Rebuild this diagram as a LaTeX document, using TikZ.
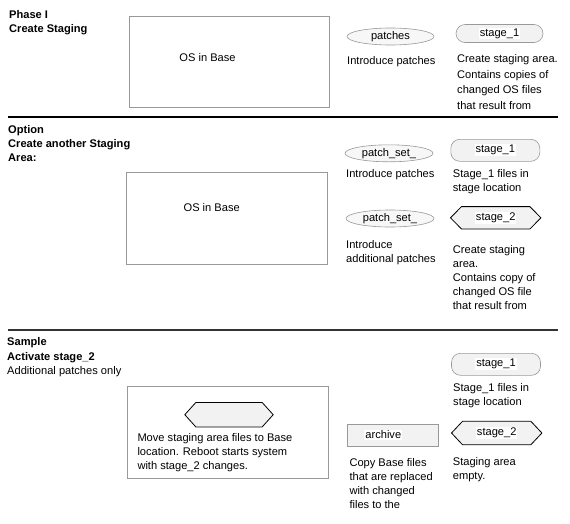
\documentclass[tikz,border=0pt]{standalone}
\usepackage{fontspec}
\setmainfont{Liberation Sans}
\usetikzlibrary{shapes.geometric}
\newcommand\dgfont{\fontsize{11.1pt}{14pt}\selectfont}
\tikzset{
  dtext/.style={anchor=north west, inner sep=0pt, align=left, font=\dgfont},
  dtitle/.style={dtext, font=\dgfont\bfseries},
  dplain/.style={inner sep=0pt, font=\dgfont},
  bigbox/.style={draw=gray!80, line width=0.6pt, inner sep=0pt, anchor=north west},
  oval/.style={ellipse, draw=gray!80, line width=0.6pt, fill=gray!6, inner sep=0pt, font=\dgfont},
  pill/.style={rectangle, rounded corners=9pt, draw=gray!80, line width=0.6pt, fill=gray!10, inner sep=0pt},
  flatbox/.style={rectangle, draw=gray!80, line width=0.6pt, fill=gray!10, inner sep=0pt},
  hexbox/.style={rectangle, inner sep=0pt},
  hexline/.style={draw=black, line width=0.8pt, fill=gray!10, line join=miter},
  whitelbl/.style={fill=white, inner sep=1pt, font=\dgfont},
  sepline/.style={line width=1.2pt, black},
}
\begin{document}
\begin{tikzpicture}[x=1pt,y=-1pt]
\useasboundingbox (0,0) rectangle (570,523);

% ---------- Section 1 ----------
\node[dtitle] (t1) at (9,8.2) {\strut Phase I\\Create Staging};
\node[bigbox, minimum width=200pt, minimum height=91pt] (box1) at (129,16) {};
\node[dplain] (os1) at (207.5,58) {OS in Base};
\node[oval, minimum width=87pt, minimum height=17pt] (p1) at (390.5,36.5) {patches};
\node[dtext] (ip1) at (347,54.2) {\strut Introduce patches};
\node[pill, minimum width=87pt, minimum height=18pt,
      label={[whitelbl]center:stage\_1}] (s11) at (499.5,33.5) {};
\node[dtext] (c1) at (457,52.7) {\strut Create staging area.\\[1.5pt]Contains copies of\\[1.5pt]changed OS files\\[1.5pt]that result from};
\coordinate (l1a) at (8,117);
\coordinate (l1b) at (558,117);
\draw[sepline] (l1a) -- (l1b);

% ---------- Section 2 ----------
\node[dtitle] (t2) at (8,123.9) {\strut Option\\Create another Staging\\Area:};
\node[oval, minimum width=88pt, minimum height=17pt] (p21) at (389,153.3) {patch\_set\_};
\node[dtext] (ip21) at (346,167.9) {\strut Introduce patches};
\node[pill, minimum width=89pt, minimum height=22pt,
      label={[whitelbl]center:stage\_1}] (s21) at (495.3,150.3) {};
\node[dtext] (f21) at (452.7,167.2) {\strut Stage\_1 files in\\stage location};
\node[bigbox, minimum width=201pt, minimum height=91.7pt] (box2) at (125.7,172) {};
\node[dplain] (os2) at (211.7,208) {OS in Base};
\node[oval, minimum width=88pt, minimum height=17pt] (p22) at (390,218.5) {patch\_set\_};
\node[hexbox, minimum width=90pt, minimum height=22pt] (s22) at (495.7,217.8) {};
\draw[hexline] (s22.west) -- ([xshift=11pt]s22.north west) -- ([xshift=-11pt]s22.north east)
  -- (s22.east) -- ([xshift=-11pt]s22.south east) -- ([xshift=11pt]s22.south west) -- cycle;
\node[whitelbl] (s22t) at (s22) {stage\_2};
\node[dtext] (ip22) at (346,238.5) {\strut Introduce\\additional patches};
\node[dtext] (c22) at (452.7,243.9) {\strut Create staging\\area.\\Contains copy of\\changed OS file\\that result from};
\coordinate (l2a) at (8,330);
\coordinate (l2b) at (558,330);
\draw[sepline, black!80] (l2a) -- (l2b);

% ---------- Section 3 ----------
\node[dtext] (t3) at (7,335.9) {\strut\textbf{Sample}\\[0.5pt]\textbf{Activate stage\_2}\\[0.5pt]Additional patches only};
\node[pill, minimum width=89pt, minimum height=22pt,
      label={[whitelbl]center:stage\_1}] (s31) at (496,364.3) {};
\node[dtext] (f31) at (453,381.5) {\strut Stage\_1 files in\\stage location};
\node[bigbox, minimum width=201pt, minimum height=92.3pt] (box3) at (126.7,386) {};
\node[hexbox, minimum width=88pt, minimum height=24pt] (h3) at (229,414.7) {};
\draw[hexline] (h3.west) -- ([xshift=11pt]h3.north west) -- ([xshift=-11pt]h3.north east)
  -- (h3.east) -- ([xshift=-11pt]h3.south east) -- ([xshift=11pt]h3.south west) -- cycle;
\node[dtext] (mv3) at (137.3,431.9) {\strut Move staging area files to Base\\location. Reboot starts system\\with stage\_2 changes.};
\node[flatbox, minimum width=91pt, minimum height=22pt,
      label={[whitelbl, xshift=-9.5pt]center:archive}] (a3) at (392.8,434.8) {};
\node[hexbox, minimum width=90pt, minimum height=23pt] (s32) at (496.7,433) {};
\draw[hexline] (s32.west) -- ([xshift=11pt]s32.north west) -- ([xshift=-11pt]s32.north east)
  -- (s32.east) -- ([xshift=-11pt]s32.south east) -- ([xshift=11pt]s32.south west) -- cycle;
\node[whitelbl] (s32t) at (s32) {stage\_2};
\node[dtext] (cp3) at (349.3,456.5) {\strut Copy Base files\\that are replaced\\with changed\\files to the};
\node[dtext] (sa3) at (452.7,455.2) {\strut Staging area\\empty.};
\end{tikzpicture}
\end{document}
